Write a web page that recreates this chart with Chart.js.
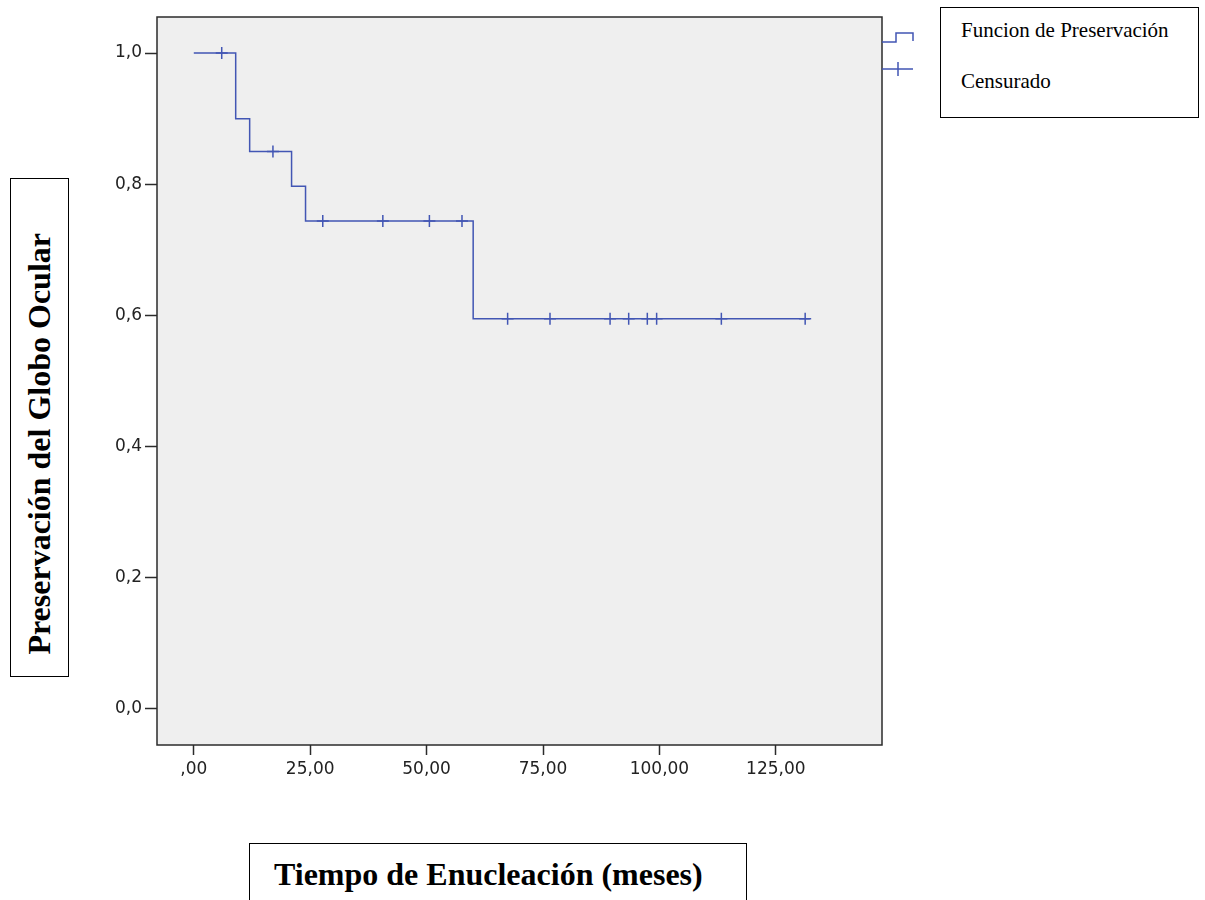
<!DOCTYPE html>
<html>
<head>
<meta charset="utf-8">
<script src="https://cdn.jsdelivr.net/npm/chart.js@4"></script>
<style>
  html, body { margin: 0; padding: 0; background: #ffffff; width: 1205px; height: 900px; overflow: hidden; }
  #wrap { position: relative; width: 1205px; height: 900px; }
  canvas { position: absolute; left: 0; top: 0; }
  .box { position: absolute; border: 1.5px solid #000; box-sizing: border-box; background: #fff; font-family: "Liberation Serif", "Times New Roman", serif; color: #000; }
  #ytitle { left: 10px; top: 178px; width: 59px; height: 499px; display: flex; align-items: center; justify-content: center; padding-top: 32px; }
  #ytitle span { writing-mode: vertical-rl; transform: rotate(180deg); font-weight: bold; font-size: 32px; white-space: nowrap; }
  #xtitle { left: 249px; top: 843px; width: 498px; height: 70px; font-weight: bold; font-size: 32px; line-height: 36px; padding: 12px 0 0 24px; white-space: nowrap; }
  #legend { left: 940px; top: 7px; width: 259px; height: 111px; font-size: 21px; line-height: 24px; }
  #legend div { position: absolute; left: 20px; white-space: nowrap; }
</style>
</head>
<body>
<div id="wrap">
  <canvas id="c" width="1205" height="900"></canvas>
  <div id="ytitle" class="box"><span>Preservación del Globo Ocular</span></div>
  <div id="xtitle" class="box">Tiempo de Enucleación (meses)</div>
  <div id="legend" class="box">
    <div style="top:10px">Funcion de Preservación</div>
    <div style="top:61px">Censurado</div>
  </div>
</div>
<script>
// Survival (step) function: time in months and survival proportion
const stepTimes = [0, 9, 12, 21, 24, 60, 132.3];
const stepSurvival = [1.0, 0.9, 0.85, 0.797, 0.744, 0.595, 0.595];

// Censored observations
const censorTimes = [6, 17, 27.7, 40.6, 50.6, 57.6, 67.4, 76.5, 89.4, 93.4, 97.4, 99.4, 113.3, 131.3];
const censorSurvival = [1.0, 0.85, 0.744, 0.744, 0.744, 0.744, 0.595, 0.595, 0.595, 0.595, 0.595, 0.595, 0.595, 0.595];

// Axis ticks
const xTicks = [0, 25, 50, 75, 100, 125];
const xTickLabels = [',00', '25,00', '50,00', '75,00', '100,00', '125,00'];
const yTicks = [0, 0.2, 0.4, 0.6, 0.8, 1.0];
const yTickLabels = ['0,0', '0,2', '0,4', '0,6', '0,8', '1,0'];

const seriesNames = ['Funcion de Preservación', 'Censurado'];

const lineColor = '#4256b4';
const axisColor = '#2b2b2b';

const stepData = stepTimes.map((t, i) => ({ x: t, y: stepSurvival[i] }));
const censorData = censorTimes.map((t, i) => ({ x: t, y: censorSurvival[i] }));

const framePlugin = {
  id: 'frame',
  beforeDatasetsDraw(chart) {
    const { ctx, chartArea: a } = chart;
    ctx.save();
    ctx.fillStyle = '#efefef';
    ctx.fillRect(a.left, a.top, a.right - a.left, a.bottom - a.top);
    ctx.restore();
  },
  afterDraw(chart) {
    const { ctx, chartArea: a } = chart;
    ctx.save();
    ctx.strokeStyle = axisColor;
    ctx.lineWidth = 1.5;
    ctx.strokeRect(a.left, a.top, a.right - a.left, a.bottom - a.top);
    // legend symbols next to the frame
    ctx.strokeStyle = lineColor;
    ctx.lineWidth = 1.5;
    ctx.beginPath();
    ctx.moveTo(a.right, 42);
    ctx.lineTo(896, 42);
    ctx.lineTo(896, 33);
    ctx.lineTo(913, 33);
    ctx.lineTo(913, 41);
    ctx.stroke();
    ctx.beginPath();
    ctx.moveTo(a.right, 69);
    ctx.lineTo(913, 69);
    ctx.moveTo(898, 62);
    ctx.lineTo(898, 76);
    ctx.stroke();
    ctx.restore();
  }
};

new Chart(document.getElementById('c'), {
  type: 'scatter',
  data: {
    datasets: [
      {
        label: seriesNames[0],
        data: stepData,
        showLine: true,
        stepped: 'before',
        borderColor: lineColor,
        backgroundColor: lineColor,
        borderWidth: 1.5,
        pointRadius: 0,
        pointHoverRadius: 0,
        fill: false
      },
      {
        label: seriesNames[1],
        data: censorData,
        showLine: false,
        pointStyle: 'cross',
        pointRadius: 6,
        pointHoverRadius: 6,
        borderColor: lineColor,
        backgroundColor: lineColor,
        borderWidth: 1.5
      }
    ]
  },
  options: {
    responsive: false,
    animation: false,
    events: [],
    layout: { padding: { left: 0, top: 17, right: 323, bottom: 0 } },
    plugins: {
      legend: { display: false },
      tooltip: { enabled: false },
      title: { display: false }
    },
    scales: {
      x: {
        type: 'linear',
        min: -7.9,
        max: 147.8,
        afterFit(scale) { scale.height = 155; },
        afterBuildTicks(scale) { scale.ticks = xTicks.map(v => ({ value: v })); },
        border: { display: false },
        grid: { drawOnChartArea: false, drawTicks: true, tickLength: 10, tickWidth: 1.5, tickColor: axisColor, color: axisColor },
        ticks: {
          autoSkip: false,
          maxRotation: 0,
          padding: 4,
          color: '#222',
          font: { family: 'DejaVu Sans', size: 17 },
          callback(v) { const i = xTicks.indexOf(v); return i >= 0 ? xTickLabels[i] : ''; }
        }
      },
      y: {
        type: 'linear',
        min: -0.055,
        max: 1.055,
        afterFit(scale) { scale.width = 157; },
        afterBuildTicks(scale) { scale.ticks = yTicks.map(v => ({ value: v })); },
        border: { display: false },
        grid: { drawOnChartArea: false, drawTicks: true, tickLength: 12, tickWidth: 1.5, tickColor: axisColor, color: axisColor },
        ticks: {
          autoSkip: false,
          padding: 3,
          color: '#222',
          font: { family: 'DejaVu Sans', size: 17 },
          callback(v) { const i = yTicks.findIndex(t => Math.abs(t - v) < 1e-9); return i >= 0 ? yTickLabels[i] : ''; }
        }
      }
    }
  },
  plugins: [framePlugin]
});
</script>
</body>
</html>
